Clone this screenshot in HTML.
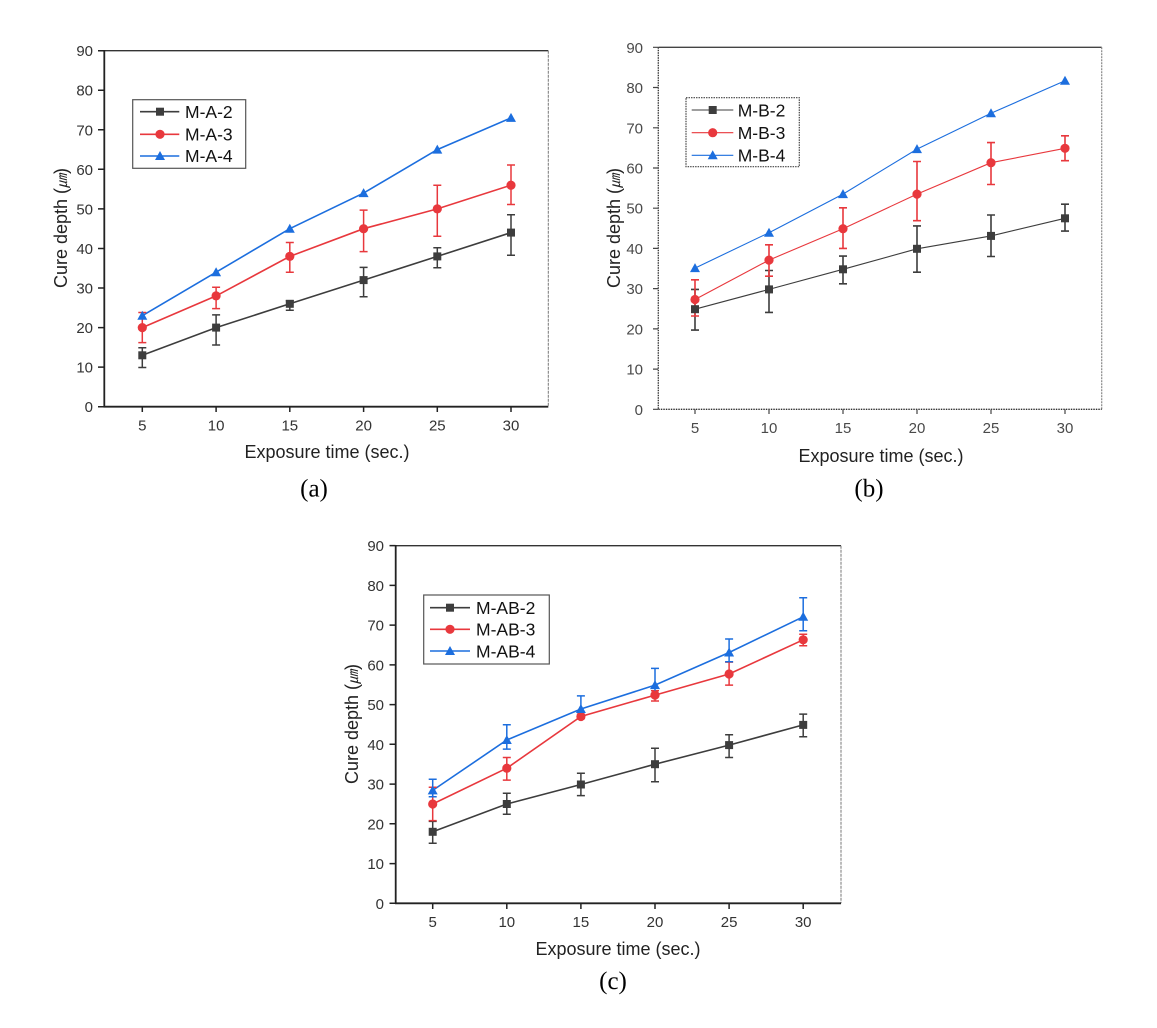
<!DOCTYPE html>
<html><head><meta charset="utf-8"><style>
html,body{margin:0;padding:0;background:#fff;}
svg{display:block;}
text{font-family:"Liberation Sans","Noto Sans CJK JP",sans-serif;}
.tk{font-size:15px;fill:#333;}
.tkb{font-size:15px;fill:#4a4a4a;}
.ttl{font-size:18px;fill:#222;}
.lg{font-size:17.5px;fill:#111;}
.cap{font-family:"Liberation Serif",serif;font-size:25px;fill:#000;}
.k{stroke:#3d3d3d;fill:none;}
.r{stroke:#e8383d;fill:none;}
.b{stroke:#1c6ede;fill:none;}
</style></head><body>
<svg width="1157" height="1028" viewBox="0 0 1157 1028" xmlns="http://www.w3.org/2000/svg">
<rect width="1157" height="1028" fill="#fff"/>

<!-- ================= PANEL A ================= -->
<g>
<line x1="104.3" y1="50.7" x2="548.3" y2="50.7" stroke="#333" stroke-width="1.3"/>
<line x1="548.3" y1="50.7" x2="548.3" y2="406.7" stroke="#777" stroke-width="1" stroke-dasharray="3,1"/>
<line x1="104.3" y1="50" x2="104.3" y2="407.5" stroke="#222" stroke-width="1.8"/>
<line x1="103.5" y1="406.7" x2="548.3" y2="406.7" stroke="#222" stroke-width="1.8"/>
<path d="M98,406.7H104 M98,367.1H104 M98,327.6H104 M98,288H104 M98,248.5H104 M98,208.9H104 M98,169.3H104 M98,129.8H104 M98,90.2H104 M98,50.7H104" stroke="#222" stroke-width="1.5"/>
<path d="M142.3,407V412 M216.1,407V412 M289.8,407V412 M363.6,407V412 M437.3,407V412 M511,407V412" stroke="#222" stroke-width="1.5"/>
<g class="tk" text-anchor="end">
<text x="93" y="412.2">0</text><text x="93" y="372.6">10</text><text x="93" y="333.1">20</text><text x="93" y="293.5">30</text><text x="93" y="254">40</text><text x="93" y="214.4">50</text><text x="93" y="174.8">60</text><text x="93" y="135.3">70</text><text x="93" y="95.7">80</text><text x="93" y="56.2">90</text>
</g>
<g class="tk" text-anchor="middle">
<text x="142.3" y="430.5">5</text><text x="216.1" y="430.5">10</text><text x="289.8" y="430.5">15</text><text x="363.6" y="430.5">20</text><text x="437.3" y="430.5">25</text><text x="511" y="430.5">30</text>
</g>
<text class="ttl" x="327" y="458" text-anchor="middle">Exposure time (sec.)</text>
<text class="ttl" transform="translate(67,228) rotate(-90)" text-anchor="middle">Cure depth (<tspan font-size="14" font-style="italic">㎛</tspan>)</text>

<!-- series -->
<polyline class="k" stroke-width="1.6" points="142.3,355.3 216.1,327.6 289.8,303.8 363.6,280.1 437.3,256.4 511,232.6"/>
<polyline class="r" stroke-width="1.6" points="142.3,327.6 216.1,295.9 289.8,256.4 363.6,228.7 437.3,208.9 511,185.2"/>
<polyline class="b" stroke-width="1.6" points="142.3,315.7 216.1,272.2 289.8,228.7 363.6,193.1 437.3,149.6 511,117.9"/>
<path class="k" stroke-width="1.5" d="M142.3,347.8V367.5M138.3,347.8H146.3M138.3,367.5H146.3 M216.1,314.9V345M212.1,314.9H220.1M212.1,345H220.1 M289.8,300.7V310.2M285.8,300.7H293.8M285.8,310.2H293.8 M363.6,267.4V296.7M359.6,267.4H367.6M359.6,296.7H367.6 M437.3,247.7V267.8M433.3,247.7H441.3M433.3,267.8H441.3 M511,214.8V255.2M507,214.8H515M507,255.2H515"/>
<path class="r" stroke-width="1.5" d="M142.3,312.5V342.6M138.3,312.5H146.3M138.3,342.6H146.3 M216.1,287.2V308.6M212.1,287.2H220.1M212.1,308.6H220.1 M289.8,242.5V272.2M285.8,242.5H293.8M285.8,272.2H293.8 M363.6,210.1V251.6M359.6,210.1H367.6M359.6,251.6H367.6 M437.3,185.2V236.2M433.3,185.2H441.3M433.3,236.2H441.3 M511,165V204.5M507,165H515M507,204.5H515"/>
<g fill="#3d3d3d">
<rect x="138.3" y="351.3" width="8" height="8"/><rect x="212.1" y="323.6" width="8" height="8"/><rect x="285.8" y="299.8" width="8" height="8"/><rect x="359.6" y="276.1" width="8" height="8"/><rect x="433.3" y="252.4" width="8" height="8"/><rect x="507" y="228.6" width="8" height="8"/>
</g>
<g fill="#e8383d">
<circle cx="142.3" cy="327.6" r="4.6"/><circle cx="216.1" cy="295.9" r="4.6"/><circle cx="289.8" cy="256.4" r="4.6"/><circle cx="363.6" cy="228.7" r="4.6"/><circle cx="437.3" cy="208.9" r="4.6"/><circle cx="511" cy="185.2" r="4.6"/>
</g>
<g fill="#1c6ede">
<path d="M137.3,319.7H147.3L142.3,310.7Z"/><path d="M211.1,276.2H221.1L216.1,267.2Z"/><path d="M284.8,232.7H294.8L289.8,223.7Z"/><path d="M358.6,197.1H368.6L363.6,188.1Z"/><path d="M432.3,153.6H442.3L437.3,144.6Z"/><path d="M506,121.9H516L511,112.9Z"/>
</g>
<!-- legend -->
<rect x="132.7" y="99.7" width="113" height="68.6" fill="#fff" stroke="#555" stroke-width="1.2"/>
<line class="k" x1="140" y1="111.7" x2="179.3" y2="111.7" stroke-width="1.6"/>
<rect x="156" y="107.7" width="8" height="8" fill="#3d3d3d"/>
<line class="r" x1="140" y1="134.3" x2="179.3" y2="134.3" stroke-width="1.6"/>
<circle cx="160" cy="134.3" r="4.6" fill="#e8383d"/>
<line class="b" x1="140" y1="156" x2="179.3" y2="156" stroke-width="1.6"/>
<path d="M155,160H165L160,151Z" fill="#1c6ede"/>
<text class="lg" x="185" y="118">M-A-2</text>
<text class="lg" x="185" y="140.5">M-A-3</text>
<text class="lg" x="185" y="162.2">M-A-4</text>
<text class="cap" x="314" y="496.5" text-anchor="middle">(a)</text>
</g>

<!-- ================= PANEL B ================= -->
<g>
<line x1="658.3" y1="47.3" x2="1101.7" y2="47.3" stroke="#444" stroke-width="1.3"/>
<line x1="1101.7" y1="47.3" x2="1101.7" y2="409.3" stroke="#888" stroke-width="1.2" stroke-dasharray="2,1"/>
<line x1="658.3" y1="47.3" x2="658.3" y2="409.3" stroke="#333" stroke-width="1.3" stroke-dasharray="1.5,1"/>
<line x1="658.3" y1="409.3" x2="1101.7" y2="409.3" stroke="#333" stroke-width="1.3" stroke-dasharray="1.5,1"/>
<path d="M653,409.3H658 M653,369.1H658 M653,328.9H658 M653,288.6H658 M653,248.4H658 M653,208.2H658 M653,168H658 M653,127.8H658 M653,87.5H658 M653,47.3H658" stroke="#444" stroke-width="1.2"/>
<path d="M695,409.5V414 M769,409.5V414 M843,409.5V414 M917,409.5V414 M991,409.5V414 M1065,409.5V414" stroke="#444" stroke-width="1.2"/>
<g class="tkb" text-anchor="end">
<text x="643" y="414.8">0</text><text x="643" y="374.6">10</text><text x="643" y="334.4">20</text><text x="643" y="294.1">30</text><text x="643" y="253.9">40</text><text x="643" y="213.7">50</text><text x="643" y="173.5">60</text><text x="643" y="133.3">70</text><text x="643" y="93">80</text><text x="643" y="52.8">90</text>
</g>
<g class="tkb" text-anchor="middle">
<text x="695" y="433">5</text><text x="769" y="433">10</text><text x="843" y="433">15</text><text x="917" y="433">20</text><text x="991" y="433">25</text><text x="1065" y="433">30</text>
</g>
<text class="ttl" x="881" y="462" text-anchor="middle" fill="#333">Exposure time (sec.)</text>
<text class="ttl" transform="translate(620,228) rotate(-90)" text-anchor="middle" fill="#333">Cure depth (<tspan font-size="14" font-style="italic">㎛</tspan>)</text>

<polyline class="k" stroke-width="1.1" points="695,309.2 769,289.4 843,269.3 917,248.8 991,235.9 1065,218.3"/>
<polyline class="r" stroke-width="1.1" points="695,299.5 769,260.1 843,228.7 917,194.1 991,162.7 1065,148.3"/>
<polyline class="b" stroke-width="1.1" points="695,268.1 769,232.7 843,194.1 917,149.1 991,113.3 1065,80.7"/>
<path class="k" stroke-width="1.6" d="M695,289.4V330.1M691,289.4H699M691,330.1H699 M769,270.5V312.4M765,270.5H773M765,312.4H773 M843,256.1V283.8M839,256.1H847M839,283.8H847 M917,225.9V272.2M913,225.9H921M913,272.2H921 M991,215V256.5M987,215H995M987,256.5H995 M1065,204.2V231.1M1061,204.2H1069M1061,231.1H1069"/>
<path class="r" stroke-width="1.6" d="M695,279.8V316M691,279.8H699M691,316H699 M769,244.8V276.2M765,244.8H773M765,276.2H773 M843,207.8V248.4M839,207.8H847M839,248.4H847 M917,161.5V220.7M913,161.5H921M913,220.7H921 M991,142.6V184.5M987,142.6H995M987,184.5H995 M1065,135.8V160.7M1061,135.8H1069M1061,160.7H1069"/>
<g fill="#3d3d3d">
<rect x="691" y="305.2" width="8" height="8"/><rect x="765" y="285.4" width="8" height="8"/><rect x="839" y="265.3" width="8" height="8"/><rect x="913" y="244.8" width="8" height="8"/><rect x="987" y="231.9" width="8" height="8"/><rect x="1061" y="214.3" width="8" height="8"/>
</g>
<g fill="#e8383d">
<circle cx="695" cy="299.5" r="4.6"/><circle cx="769" cy="260.1" r="4.6"/><circle cx="843" cy="228.7" r="4.6"/><circle cx="917" cy="194.1" r="4.6"/><circle cx="991" cy="162.7" r="4.6"/><circle cx="1065" cy="148.3" r="4.6"/>
</g>
<g fill="#1c6ede">
<path d="M690,272.1H700L695,263.1Z"/><path d="M764,236.7H774L769,227.7Z"/><path d="M838,198.1H848L843,189.1Z"/><path d="M912,153.1H922L917,144.1Z"/><path d="M986,117.3H996L991,108.3Z"/><path d="M1060,84.7H1070L1065,75.7Z"/>
</g>
<rect x="686" y="97.7" width="113.3" height="69" fill="#fff" stroke="#444" stroke-width="1.2" stroke-dasharray="1.5,1"/>
<line class="k" x1="691.7" y1="110" x2="733.3" y2="110" stroke-width="1.1"/>
<rect x="708.7" y="106" width="8" height="8" fill="#3d3d3d"/>
<line class="r" x1="691.7" y1="132.7" x2="733.3" y2="132.7" stroke-width="1.1"/>
<circle cx="712.7" cy="132.7" r="4.6" fill="#e8383d"/>
<line class="b" x1="691.7" y1="155.3" x2="733.3" y2="155.3" stroke-width="1.1"/>
<path d="M707.7,159.3H717.7L712.7,150.3Z" fill="#1c6ede"/>
<text class="lg" x="737.7" y="116.3">M-B-2</text>
<text class="lg" x="737.7" y="139">M-B-3</text>
<text class="lg" x="737.7" y="161.6">M-B-4</text>
<text class="cap" x="869" y="496.5" text-anchor="middle">(b)</text>
</g>

<!-- ================= PANEL C ================= -->
<g>
<line x1="395.7" y1="545.7" x2="841" y2="545.7" stroke="#333" stroke-width="1.3"/>
<line x1="841" y1="545.7" x2="841" y2="903.3" stroke="#777" stroke-width="1" stroke-dasharray="3,1"/>
<line x1="395.7" y1="545" x2="395.7" y2="904" stroke="#222" stroke-width="1.8"/>
<line x1="395" y1="903.3" x2="841" y2="903.3" stroke="#222" stroke-width="1.8"/>
<path d="M389.5,903.3H395.5 M389.5,863.6H395.5 M389.5,823.8H395.5 M389.5,784.1H395.5 M389.5,744.3H395.5 M389.5,704.6H395.5 M389.5,664.9H395.5 M389.5,625.1H395.5 M389.5,585.4H395.5 M389.5,545.6H395.5" stroke="#222" stroke-width="1.5"/>
<path d="M432.7,903.5V909 M506.8,903.5V909 M580.9,903.5V909 M655,903.5V909 M729.1,903.5V909 M803.2,903.5V909" stroke="#222" stroke-width="1.5"/>
<g class="tk" text-anchor="end">
<text x="384" y="908.8">0</text><text x="384" y="869.1">10</text><text x="384" y="829.3">20</text><text x="384" y="789.6">30</text><text x="384" y="749.8">40</text><text x="384" y="710.1">50</text><text x="384" y="670.4">60</text><text x="384" y="630.6">70</text><text x="384" y="590.9">80</text><text x="384" y="551.1">90</text>
</g>
<g class="tk" text-anchor="middle">
<text x="432.7" y="927">5</text><text x="506.8" y="927">10</text><text x="580.9" y="927">15</text><text x="655" y="927">20</text><text x="729.1" y="927">25</text><text x="803.2" y="927">30</text>
</g>
<text class="ttl" x="618" y="955" text-anchor="middle">Exposure time (sec.)</text>
<text class="ttl" transform="translate(358,724) rotate(-90)" text-anchor="middle">Cure depth (<tspan font-size="14" font-style="italic">㎛</tspan>)</text>

<polyline class="k" stroke-width="1.6" points="432.7,831.8 506.8,804 580.9,784.5 655,764.2 729.1,745.1 803.2,724.9"/>
<polyline class="r" stroke-width="1.6" points="432.7,804 506.8,768.2 580.9,716.5 655,695.1 729.1,674 803.2,639.8"/>
<polyline class="b" stroke-width="1.6" points="432.7,790.4 506.8,740 580.9,709 655,685.1 729.1,652.5 803.2,616.8"/>
<path class="k" stroke-width="1.5" d="M432.7,821.4V843.3M428.7,821.4H436.7M428.7,843.3H436.7 M506.8,793.2V814.3M502.8,793.2H510.8M502.8,814.3H510.8 M580.9,773.3V795.6M576.9,773.3H584.9M576.9,795.6H584.9 M655,748.3V781.7M651,748.3H659M651,781.7H659 M729.1,734.8V757.5M725.1,734.8H733.1M725.1,757.5H733.1 M803.2,714.1V736.8M799.2,714.1H807.2M799.2,736.8H807.2"/>
<path class="r" stroke-width="1.5" d="M432.7,787.3V820.6M428.7,787.3H436.7M428.7,820.6H436.7 M506.8,757.5V780.1M502.8,757.5H510.8M502.8,780.1H510.8 M580.9,714.5V718.5M576.9,714.5H584.9M576.9,718.5H584.9 M655,690.7V701M651,690.7H659M651,701H659 M729.1,662.1V685.1M725.1,662.1H733.1M725.1,685.1H733.1 M803.2,634.3V645.8M799.2,634.3H807.2M799.2,645.8H807.2"/>
<path class="b" stroke-width="1.5" d="M432.7,779.3V796.8M428.7,779.3H436.7M428.7,796.8H436.7 M506.8,724.8V749.1M502.8,724.8H510.8M502.8,749.1H510.8 M580.9,695.9V712.5M576.9,695.9H584.9M576.9,712.5H584.9 M655,668.4V693.5M651,668.4H659M651,693.5H659 M729.1,639V661.7M725.1,639H733.1M725.1,661.7H733.1 M803.2,597.7V630.7M799.2,597.7H807.2M799.2,630.7H807.2"/>
<g fill="#3d3d3d">
<rect x="428.7" y="827.8" width="8" height="8"/><rect x="502.8" y="800" width="8" height="8"/><rect x="576.9" y="780.5" width="8" height="8"/><rect x="651" y="760.2" width="8" height="8"/><rect x="725.1" y="741.1" width="8" height="8"/><rect x="799.2" y="720.9" width="8" height="8"/>
</g>
<g fill="#e8383d">
<circle cx="432.7" cy="804" r="4.6"/><circle cx="506.8" cy="768.2" r="4.6"/><circle cx="580.9" cy="716.5" r="4.6"/><circle cx="655" cy="695.1" r="4.6"/><circle cx="729.1" cy="674" r="4.6"/><circle cx="803.2" cy="639.8" r="4.6"/>
</g>
<g fill="#1c6ede">
<path d="M427.7,794.4H437.7L432.7,785.4Z"/><path d="M501.8,744H511.8L506.8,735Z"/><path d="M575.9,713H585.9L580.9,704Z"/><path d="M650,689.1H660L655,680.1Z"/><path d="M724.1,656.5H734.1L729.1,647.5Z"/><path d="M798.2,620.8H808.2L803.2,611.8Z"/>
</g>
<rect x="423.7" y="595" width="125.6" height="69" fill="#fff" stroke="#555" stroke-width="1.2"/>
<line class="k" x1="430" y1="607.7" x2="470" y2="607.7" stroke-width="1.6"/>
<rect x="446" y="603.7" width="8" height="8" fill="#3d3d3d"/>
<line class="r" x1="430" y1="629.3" x2="470" y2="629.3" stroke-width="1.6"/>
<circle cx="450" cy="629.3" r="4.6" fill="#e8383d"/>
<line class="b" x1="430" y1="651" x2="470" y2="651" stroke-width="1.6"/>
<path d="M445,655H455L450,646Z" fill="#1c6ede"/>
<text class="lg" x="476" y="614">M-AB-2</text>
<text class="lg" x="476" y="635.6">M-AB-3</text>
<text class="lg" x="476" y="657.3">M-AB-4</text>
<text class="cap" x="613" y="989" text-anchor="middle">(c)</text>
</g>
</svg>
</body></html>
